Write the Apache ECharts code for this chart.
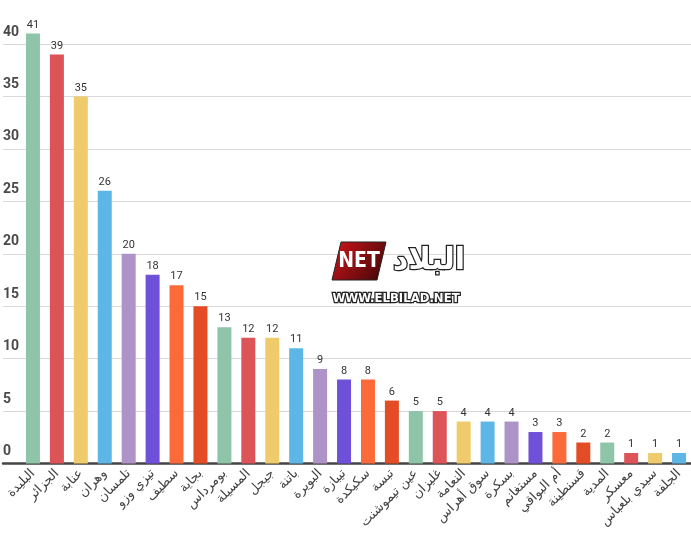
<!DOCTYPE html>
<html><head><meta charset="utf-8">
<script src="https://cdn.jsdelivr.net/npm/echarts@6/dist/echarts.min.js"></script>
<style>html,body{margin:0;padding:0;background:#fff}#c{width:691px;height:535px}</style>
</head><body><div id="c"></div>
<script>
var categories = ['البليدة','الجزائر','عنابة','وهران','تلمسان','تيزي وزو','سطيف','بجاية','بومرداس','المسيلة','جيجل','باتنة','البويرة','تيبازة','سكيكدة','تبسة','عين تيموشنت','غليزان','النعامة','سوق أهراس','بسكرة','مستغانم','أم البواقي','قسنطينة','المدية','معسكر','سيدي بلعباس','الجلفة'];
var values = [41,39,35,26,20,18,17,15,13,12,12,11,9,8,8,6,5,5,4,4,4,3,3,2,2,1,1,1];
var palette = ['#8ec5a8','#dc5358','#f0cb6b','#5db6e5','#ae93c9','#6e51d8','#fd6a3a','#e34c24'];
var yTicks = {min:0, max:40, interval:5};

var chart = echarts.init(document.getElementById('c'), null, {renderer:'canvas'});
var gridTop = 44, gridBottom = 71.5;
chart.setOption({
  animation:false,
  grid:[
    {left:2, right:0, top:gridTop, bottom:gridBottom},
    {left:21, right:-2, top:gridTop, bottom:gridBottom}
  ],
  xAxis:[
    {gridIndex:0, type:'value', min:0, max:1, axisLine:{show:true, onZero:false, lineStyle:{color:'#444', width:2.5}}, axisTick:{show:false}, axisLabel:{show:false}, splitLine:{show:false}},
    {gridIndex:1, type:'category', data:categories, axisLine:{show:false}, axisTick:{show:false},
     axisLabel:{interval:0, rotate:45, margin:8, fontSize:13, color:'#444', fontFamily:'DejaVu Sans, sans-serif'}}
  ],
  yAxis:[
    {gridIndex:0, type:'value', min:yTicks.min, max:yTicks.max, interval:yTicks.interval,
     axisLine:{show:false}, axisTick:{show:false},
     axisLabel:{inside:true, margin:0, align:'left', verticalAlign:'bottom', padding:[0,0,5,0], fontSize:14, fontWeight:'bold', color:'#4a4a4a', fontFamily:'Roboto, sans-serif'},
     splitLine:{lineStyle:{color:'#d9d9d9', width:1}}},
    {gridIndex:1, type:'value', min:yTicks.min, max:yTicks.max, interval:yTicks.interval, show:false, splitLine:{show:false}}
  ],
  graphic:[
    {type:'polygon', z:100, shape:{points:[[341,242],[386,242],[377,280],[332,280]]}, style:{fill:new echarts.graphic.LinearGradient(0,0,1,1,[{offset:0,color:'#d3141b'},{offset:1,color:'#3b0707'}]), stroke:'#222', lineWidth:1}},
    {type:'text', z:101, x:359, y:262, style:{text:'NET', fill:'#fff', align:'center', verticalAlign:'middle', font:'bold 21px "Liberation Sans Narrow", "DejaVu Sans Condensed", sans-serif'}},
    {type:'text', z:101, x:465, y:261, style:{text:'البلاد', fill:'#fff', stroke:'#222', lineWidth:2.5, align:'right', verticalAlign:'middle', font:'bold 30px "DejaVu Sans", sans-serif'}},
    {type:'text', z:101, x:396, y:299, style:{text:'WWW.ELBILAD.NET', fill:'#fff', stroke:'#222', lineWidth:2.5, align:'center', verticalAlign:'middle', font:'bold 13px "DejaVu Sans Condensed", "Liberation Sans", sans-serif'}}
  ],
  series:[{
    type:'bar', xAxisIndex:1, yAxisIndex:1, clip:false, barWidth:14,
    data: values.map(function(v,i){return {value:v, itemStyle:{color:palette[i%palette.length]}};}),
    label:{show:true, position:'top', distance:3, fontSize:11, color:'#333', fontFamily:'Roboto, sans-serif'}
  }]
});
</script></body></html>
